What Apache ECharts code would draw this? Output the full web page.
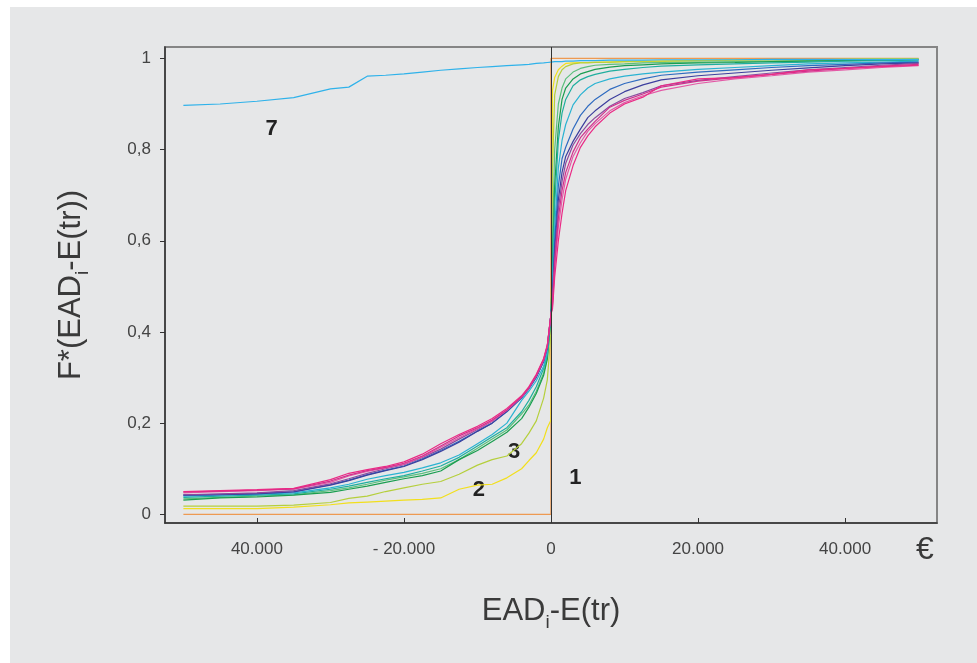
<!DOCTYPE html>
<html>
<head>
<meta charset="utf-8">
<script src="https://cdn.jsdelivr.net/npm/echarts@6/dist/echarts.min.js"></script>
<style>
html, body { margin: 0; background: #ffffff; }
#chart { position: absolute; left: 10px; top: 7px; width: 967px; height: 656px; background: #e6e7e8; }
</style>
</head>
<body>
<div id="chart"></div>
<script>
// shared x grid for all empirical distribution curves
var xGrid = [-50000, -45000, -40000, -35000, -30000, -27500, -25000, -22500, -20000, -17500, -15000, -12500, -10000, -8000, -6000, -4000, -3000, -2000, -1000, -500, 0,
  200, 500, 1000, 1500, 2000, 3000, 4000, 5000, 6000, 8000, 10000, 12500, 15000, 20000, 25000, 30000, 35000, 40000, 45000, 50000];

// series 1: the step at zero
var orangeX = [-50000, 0, 0, 50000];
var orangeY = [0, 0, 1, 1];

var yellow = [0.0125, 0.0125, 0.0125, 0.016, 0.021, 0.025, 0.027, 0.029, 0.031, 0.033, 0.036, 0.055, 0.064, 0.066, 0.08, 0.1, 0.118, 0.135, 0.165, 0.19, 0.207,
  0.93, 0.958, 0.975, 0.983, 0.989, 0.99, 0.991, 0.991, 0.992, 0.992, 0.993, 0.993, 0.994, 0.995, 0.996, 0.997, 0.997, 0.998, 0.999, 0.999];
var yellowGreen = [0.018, 0.018, 0.018, 0.02, 0.026, 0.035, 0.04, 0.05, 0.058, 0.066, 0.072, 0.088, 0.108, 0.12, 0.128, 0.155, 0.178, 0.205, 0.255, 0.295, 0.4,
  0.75, 0.92, 0.96, 0.975, 0.982, 0.988, 0.99, 0.99, 0.991, 0.992, 0.993, 0.994, 0.994, 0.995, 0.996, 0.997, 0.997, 0.998, 0.999, 0.999];
var midGreen = [0.034, 0.037, 0.04, 0.043, 0.052, 0.058, 0.066, 0.075, 0.082, 0.09, 0.1, 0.12, 0.145, 0.165, 0.185, 0.22, 0.24, 0.27, 0.31, 0.345, 0.43,
  0.6, 0.8, 0.9, 0.935, 0.955, 0.97, 0.978, 0.982, 0.985, 0.987, 0.988, 0.99, 0.991, 0.992, 0.993, 0.994, 0.995, 0.996, 0.997, 0.998];
var darkGreen = [0.031, 0.036, 0.038, 0.042, 0.048, 0.055, 0.062, 0.07, 0.078, 0.085, 0.095, 0.12, 0.14, 0.16, 0.18, 0.21, 0.235, 0.265, 0.305, 0.34, 0.43,
  0.55, 0.72, 0.85, 0.91, 0.935, 0.955, 0.966, 0.971, 0.976, 0.981, 0.984, 0.986, 0.988, 0.99, 0.991, 0.993, 0.994, 0.995, 0.996, 0.997];
var teal = [0.037, 0.04, 0.042, 0.045, 0.055, 0.062, 0.07, 0.078, 0.085, 0.095, 0.106, 0.125, 0.15, 0.17, 0.19, 0.225, 0.25, 0.28, 0.32, 0.35, 0.44,
  0.53, 0.68, 0.82, 0.88, 0.91, 0.94, 0.953, 0.96, 0.965, 0.972, 0.976, 0.98, 0.983, 0.986, 0.988, 0.99, 0.992, 0.994, 0.995, 0.996];
var cyan = [0.04, 0.042, 0.044, 0.047, 0.058, 0.066, 0.077, 0.085, 0.092, 0.102, 0.113, 0.13, 0.155, 0.175, 0.2, 0.25, 0.27, 0.293, 0.325, 0.355, 0.44,
  0.5, 0.63, 0.76, 0.82, 0.855, 0.898, 0.92, 0.935, 0.945, 0.955, 0.961, 0.966, 0.97, 0.976, 0.98, 0.984, 0.988, 0.99, 0.992, 0.994];
var blue = [0.042, 0.044, 0.046, 0.05, 0.065, 0.075, 0.087, 0.097, 0.106, 0.122, 0.14, 0.16, 0.183, 0.2, 0.225, 0.255, 0.275, 0.3, 0.335, 0.365, 0.44,
  0.48, 0.6, 0.72, 0.78, 0.805, 0.845, 0.875, 0.895, 0.91, 0.932, 0.945, 0.955, 0.963, 0.97, 0.975, 0.98, 0.984, 0.987, 0.99, 0.992];
var indigo = [0.042, 0.043, 0.045, 0.049, 0.064, 0.074, 0.086, 0.096, 0.105, 0.12, 0.138, 0.158, 0.182, 0.2, 0.226, 0.256, 0.277, 0.302, 0.336, 0.366, 0.44,
  0.47, 0.58, 0.69, 0.75, 0.785, 0.818, 0.845, 0.87, 0.885, 0.91, 0.927, 0.942, 0.953, 0.962, 0.968, 0.974, 0.979, 0.984, 0.988, 0.99];
var purple = [0.043, 0.045, 0.047, 0.052, 0.067, 0.078, 0.09, 0.1, 0.109, 0.125, 0.143, 0.165, 0.186, 0.204, 0.228, 0.257, 0.278, 0.303, 0.338, 0.368, 0.44,
  0.47, 0.56, 0.67, 0.73, 0.77, 0.81, 0.835, 0.855, 0.87, 0.895, 0.912, 0.925, 0.94, 0.952, 0.96, 0.968, 0.975, 0.98, 0.985, 0.989];
var magenta = [0.049, 0.051, 0.053, 0.056, 0.073, 0.086, 0.096, 0.103, 0.112, 0.128, 0.15, 0.172, 0.19, 0.207, 0.229, 0.258, 0.278, 0.305, 0.34, 0.37, 0.44,
  0.46, 0.55, 0.65, 0.71, 0.75, 0.795, 0.826, 0.845, 0.862, 0.893, 0.908, 0.922, 0.937, 0.95, 0.958, 0.965, 0.972, 0.978, 0.983, 0.987];
var lightPink = [0.047, 0.05, 0.052, 0.055, 0.07, 0.084, 0.094, 0.102, 0.11, 0.126, 0.147, 0.168, 0.188, 0.205, 0.228, 0.257, 0.277, 0.304, 0.339, 0.369, 0.44,
  0.455, 0.54, 0.63, 0.69, 0.735, 0.785, 0.815, 0.84, 0.857, 0.885, 0.903, 0.918, 0.93, 0.945, 0.955, 0.962, 0.97, 0.975, 0.98, 0.984];
var hotPink = [0.05, 0.052, 0.054, 0.057, 0.076, 0.09, 0.098, 0.105, 0.115, 0.132, 0.155, 0.175, 0.193, 0.21, 0.232, 0.26, 0.28, 0.307, 0.342, 0.372, 0.44,
  0.45, 0.52, 0.6, 0.66, 0.71, 0.765, 0.805, 0.83, 0.85, 0.88, 0.9, 0.915, 0.94, 0.955, 0.958, 0.965, 0.975, 0.978, 0.982, 0.985];
// series 7
var skyBlue = [0.897, 0.9, 0.906, 0.914, 0.933, 0.937, 0.961, 0.963, 0.966, 0.97, 0.974, 0.977, 0.98, 0.982, 0.984, 0.986, 0.987, 0.989, 0.99, 0.991, 0.992,
  0.993, 0.993, 0.993, 0.993, 0.994, 0.994, 0.995, 0.995, 0.995, 0.996, 0.996, 0.996, 0.997, 0.997, 0.997, 0.998, 0.998, 0.998, 0.998, 0.998];

var curves = [yellow, yellowGreen, midGreen, darkGreen, teal, cyan, skyBlue, blue, indigo, purple, lightPink, magenta, hotPink];
var curveColors = ['#f2df1c', '#b5cf3c', '#5cbf7c', '#1a9e50', '#1fae9e', '#2ab3d2', '#2fb2ea', '#2f6bc0', '#3d3f9e', '#8c4b9e', '#e35aa6', '#d22f8c', '#ea2a85'];

var xTickValues = [-40000, -20000, 0, 20000, 40000];
var xTickLabels = ['40.000', '- 20.000', '0', '20.000', '40.000'];
var yTickValues = [0, 0.2, 0.4, 0.6, 0.8, 1];

var noteText = ['7', '3', '2', '1'];
var noteX = [-38000, -5000, -9800, 3300];
var noteY = [0.846, 0.136, 0.053, 0.079];

var FONT = "'Liberation Sans', Arial, sans-serif";
var TXT = '#444';

var chart = echarts.init(document.getElementById('chart'));

var series = [{
  type: 'line',
  data: orangeX.map(function (x, i) { return [x, orangeY[i]]; }),
  symbol: 'none',
  color: '#ee9a52',
  lineStyle: { width: 1.4 },
  animation: false,
  markLine: {
    silent: true,
    symbol: 'none',
    label: { show: false },
    lineStyle: { color: '#333333', width: 1, type: 'solid' },
    data: [{ xAxis: 0 }]
  }
}];
curves.forEach(function (c, k) {
  series.push({
    type: 'line',
    data: xGrid.map(function (x, i) { return [x, c[i]]; }),
    symbol: 'none',
    color: curveColors[k],
    lineStyle: { width: 1.2 },
    animation: false
  });
});

// subscript i pushed down with top padding
var richName = {
  a: { fontSize: 31, fontFamily: FONT, color: '#3a3a3a', lineHeight: 32 },
  s: { fontSize: 19, fontFamily: FONT, color: '#3a3a3a', lineHeight: 20, padding: [24, 0, 0, 0] }
};

chart.setOption({
  animation: false,
  grid: { left: 155, top: 40, right: 40, bottom: 140, show: true, borderColor: '#858585', borderWidth: 2, backgroundColor: 'transparent' },
  xAxis: {
    type: 'value', min: -52500, max: 52500,
    name: '{a|EAD}{s|i}{a|-E(tr)}', nameLocation: 'middle', nameGap: 72,
    nameTextStyle: { rich: richName },
    axisLine: { show: true, onZero: false, lineStyle: { color: '#333', width: 1.5 } },
    axisTick: { show: true, inside: true, length: 5, customValues: xTickValues, lineStyle: { color: '#333' } },
    axisLabel: {
      customValues: xTickValues, margin: 18, fontSize: 17, fontFamily: FONT, color: TXT,
      formatter: function (v) { var i = xTickValues.indexOf(v); return i >= 0 ? xTickLabels[i] : ''; }
    },
    splitLine: { show: false }
  },
  yAxis: {
    type: 'value', min: -0.019, max: 1.025,
    name: '{a|F*(EAD}{s|i}{a|-E(tr))}', nameLocation: 'middle', nameGap: 78,
    nameTextStyle: { rich: richName },
    axisLine: { show: true, onZero: false, lineStyle: { color: '#333', width: 1.5 } },
    axisTick: { show: true, length: 5, customValues: yTickValues, lineStyle: { color: '#333' } },
    axisLabel: {
      customValues: yTickValues, margin: 14, fontSize: 17, fontFamily: FONT, color: TXT,
      formatter: function (v) { return String(Math.round(v * 10) / 10).replace('.', ','); }
    },
    splitLine: { show: false }
  },
  series: series
});

var graphics = [{
  type: 'text', left: 906, top: 527,
  style: { text: '€', fontSize: 32, fontFamily: FONT, fill: '#3a3a3a' }
}];
noteText.forEach(function (t, i) {
  var p = chart.convertToPixel({ gridIndex: 0 }, [noteX[i], noteY[i]]);
  graphics.push({
    type: 'text', x: p[0], y: p[1],
    style: { text: t, fontSize: 22, fontWeight: 'bold', fontFamily: FONT, fill: '#222', align: 'center', verticalAlign: 'middle' }
  });
});
chart.setOption({ graphic: graphics });
</script>
</body>
</html>
